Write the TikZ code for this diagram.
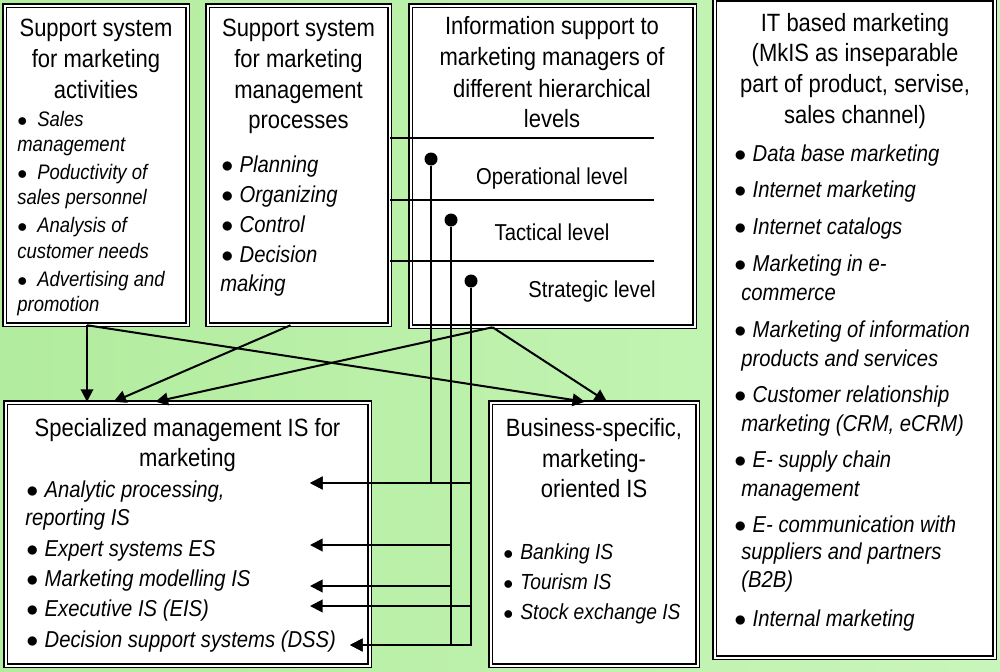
\documentclass[tikz,border=0pt]{standalone}
\usepackage{fontspec}
\setmainfont{Liberation Sans}[FakeStretch=0.88]
\usetikzlibrary{arrows.meta,calc,fit}
\definecolor{bgleft}{RGB}{178,236,158}
\definecolor{bgright}{RGB}{200,246,186}
\newcommand{\bul}[1][11pt]{\makebox[#1][l]{$\bullet$}}
\tikzset{
  box/.style={draw, double=white, line width=0.9pt, double distance=1.2pt, fill=white, inner sep=0pt},
  ttl/.style={font=\fontsize{15}{18}\selectfont, anchor=mid, inner sep=0pt},
  itm/.style={font=\fontsize{13.8}{16}\selectfont\itshape, anchor=mid west, inner sep=0pt},
  lvltxt/.style={font=\fontsize{13.8}{16}\selectfont, anchor=mid, inner sep=0pt},
  arr/.style={line width=1.2pt, -{Triangle[length=7.5pt,width=7.5pt]}},
  dot/.style={circle, fill=black, inner sep=0pt, minimum size=7.8pt},
}

\begin{document}
\begin{tikzpicture}[x=0.6pt, y=-0.6pt]
		%%%%% START %%%%%
		\useasboundingbox (0,0) rectangle (1000,671);
		\shade[left color=bgleft, right color=bgright] (0,0) rectangle (1000,671);
		
		\node[box, fit={(4.5,5.5) (187.5,324.5)}] (act) {};
		\node[box, fit={(207.5,5.5) (389.5,324.5)}] (proc) {};
		\node[box, fit={(410.5,5.5) (694.5,326.5)}] (info) {};
		\node[box, fit={(714.5,-1) (994.5,657.5)}] (itbased) {};
		\node[box, fit={(5.5,402.5) (369.5,665.5)}] (spec) {};
		\node[box, fit={(490.5,402.5) (697.5,665.5)}] (bus) {};
		
		\foreach \y/\t [count=\i] in {32/Support system, 63.5/for marketing, 94/activities}
			\node[ttl] (act-t\i) at (96,\y) {\t};
		\foreach \x/\y/\t [count=\i] in {17/122/\bul[12pt]Sales, 17/147/management,
				17/175/\bul[12pt]Poductivity of, 17/200/sales personnel,
				17/228/\bul[12pt]Analysis of, 17/254/customer needs,
				17/282/\bul[12pt]Advertising and, 17/307/promotion}
			\node[itm, font=\fontsize{12.6}{15}\selectfont\itshape] (act-i\i) at (\x,\y) {\t};
		
		\foreach \y/\t [count=\i] in {32/Support system, 63.5/for marketing, 94.5/management, 124/processes}
			\node[ttl] (proc-t\i) at (298.5,\y) {\t};
		\foreach \x/\y/\t [count=\i] in {221/168/\bul Planning, 221/198/\bul Organizing,
				221/228/\bul Control, 221/258/\bul Decision, 220/287/making}
			\node[itm] (proc-i\i) at (\x,\y) {\t};
		
		\foreach \y/\t [count=\i] in {30/Information support to, 61/marketing managers of,
				93/different hierarchical, 123/levels}
			\node[ttl] (info-t\i) at (552,\y) {\t};
		\node[lvltxt] (oper) at (552,180) {Operational level};
		\node[lvltxt] (tact) at (552,236) {Tactical level};
		\node[lvltxt] (strat) at (592,293) {Strategic level};
		
		\foreach \y/\t [count=\i] in {27/IT based marketing, 57/(MkIS as inseparable,
				88/{part of product, servise,}, 119/sales channel)}
			\node[ttl] (it-t\i) at (855,\y) {\t};
		\foreach \x/\y/\t [count=\i] in {734/157/\bul Data base marketing, 734/193/\bul Internet marketing,
				734/230/\bul Internet catalogs, 734/267/\bul Marketing in e-, 741/296/commerce,
				734/333/\bul Marketing of information, 741/362/products and services,
				734/398/\bul Customer relationship, 741/427/{marketing (CRM, eCRM)},
				734/463/\bul E- supply chain, 741/492/management,
				734/528/\bul E- communication with, 741/555/suppliers and partners, 741/583/(B2B),
				734/622/\bul Internal marketing}
			\node[itm] (it-i\i) at (\x,\y) {\t};
		
		\foreach \y/\t [count=\i] in {432/Specialized management IS for, 462/marketing}
			\node[ttl] (spec-t\i) at (187.5,\y) {\t};
		\foreach \x/\y/\t [count=\i] in {26/493/{\bul Analytic processing,}, 25/521/reporting IS,
				26/552/\bul Expert systems ES, 26/582/\bul Marketing modelling IS,
				26/612/\bul Executive IS (EIS), 26/643/\bul Decision support systems (DSS)}
			\node[itm] (spec-i\i) at (\x,\y) {\t};
		
		\foreach \y/\t [count=\i] in {432/{Business-specific,}, 463/marketing-, 493/oriented IS}
			\node[ttl] (bus-t\i) at (594,\y) {\t};
		\foreach \y/\t [count=\i] in {555/Banking IS, 585/Tourism IS, 615/Stock exchange IS}
			\node[itm, font=\fontsize{13.1}{16}\selectfont\itshape] (bus-i\i) at (503,\y) {\bul[10.2pt]\t};
		
		\coordinate (l1) at (654,138);
		\coordinate (l2) at (654,200);
		\coordinate (l3) at (654,261);
		\foreach \l in {l1,l2,l3}
			\draw[line width=0.9pt] (proc.east |- \l) -- (\l);
		
		\node[dot] (opd) at (431,159) {};
		\node[dot] (tad) at (451,220) {};
		\node[dot] (std) at (471,281) {};
		
		\coordinate (t1) at (310,483);
		\coordinate (t2) at (310,545);
		\coordinate (t3) at (310,586);
		\coordinate (t4) at (310,606);
		\coordinate (t5) at (350,645);
		\draw[arr] (opd) |- (t1);
		\draw[arr] (std) |- (t1);
		\draw[arr] (tad) |- (t2);
		\draw[arr] (tad) |- (t3);
		\draw[arr] (std) |- (t4);
		\draw[arr] (tad) |- (t5);
		\draw[arr] (std) |- (t5);
		
		\coordinate (aOut) at ($(act.south)+(-9,0)$);
		\coordinate (bOut) at ($(proc.south)+(-8,0)$);
		\coordinate (cOut) at ($(info.south)+(-60,0)$);
		\draw[arr] (aOut) -- (aOut |- spec.north);
		\draw[arr] (aOut) -- ($(bus.north)+(-9,0)$);
		\draw[arr] (bOut) -- ($(spec.north)+(-74,0)$);
		\draw[arr] (cOut) -- ($(spec.north)+(-32,0)$);
		\draw[arr] (cOut) -- ($(bus.north)+(13,0)$);
		%%%%% END %%%%%
\end{tikzpicture}
\end{document}
